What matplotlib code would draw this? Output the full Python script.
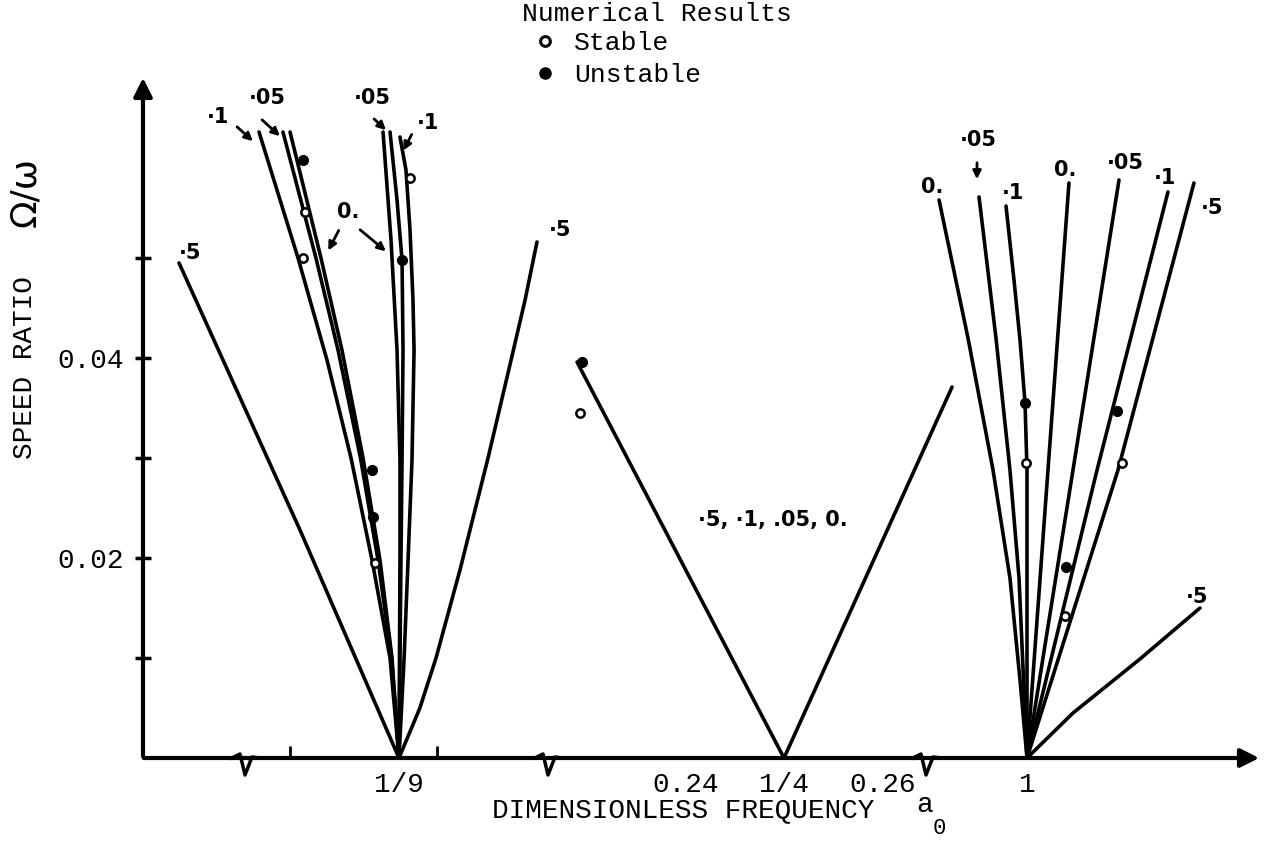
import matplotlib
matplotlib.use("Agg")
import matplotlib.pyplot as plt
import matplotlib.transforms as mtransforms
from matplotlib.lines import Line2D

plt.rcParams['font.family'] = ['Liberation Mono', 'DejaVu Sans']

# ---- data: speed ratio vs dimensionless frequency, three resonance zones ----
# curves about a0 = 1/9  (labels .5, .1, .05, 0. on each side)
ninth_a = [[0.08878, 0.10106, 0.11111],
           [0.09690, 0.10086, 0.10380, 0.10624, 0.10837, 0.11020, 0.11111],
           [0.09933, 0.10268, 0.10492, 0.10720, 0.10898, 0.11036, 0.11111],
           [0.10005, 0.10319, 0.10532, 0.10746, 0.10918, 0.11040, 0.11111],
           [0.10949, 0.11030, 0.11091, 0.11121, 0.11121, 0.11111],
           [0.11020, 0.11091, 0.11142, 0.11152, 0.11142, 0.11131, 0.11111],
           [0.11121, 0.11182, 0.11223, 0.11253, 0.11264, 0.11243, 0.11203, 0.11162, 0.11111],
           [0.12512, 0.12391, 0.12249, 0.12015, 0.11730, 0.11487, 0.11323, 0.11111]]
ninth_r = [[0.0495, 0.0228, 0.0],
           [0.0626, 0.0500, 0.0398, 0.0300, 0.0198, 0.0100, 0.0],
           [0.0626, 0.0500, 0.0408, 0.0300, 0.0198, 0.0100, 0.0],
           [0.0626, 0.0500, 0.0408, 0.0300, 0.0198, 0.0100, 0.0],
           [0.0626, 0.0518, 0.0408, 0.0298, 0.0198, 0.0],
           [0.0626, 0.0558, 0.0498, 0.0408, 0.0298, 0.0198, 0.0],
           [0.0621, 0.0588, 0.0528, 0.0458, 0.0408, 0.0298, 0.0198, 0.0098, 0.0],
           [0.0516, 0.0458, 0.0398, 0.0300, 0.0188, 0.0100, 0.0050, 0.0]]

# curves about a0 = 1/4 (all damping values coincide)
quarter_a = [[0.22899, 0.25], [0.26706, 0.25]]
quarter_r = [[0.0396, 0.0], [0.0371, 0.0]]

# curves about a0 = 1
unity_a = [[0.99107, 0.99401, 0.99655, 0.99827, 0.99929, 1.0],
           [0.99513, 0.99685, 0.99827, 0.99919, 1.0],
           [0.99787, 0.99868, 0.99929, 0.99980, 1.0, 1.0],
           [1.00426, 1.00213, 1.0],
           [1.00934, 1.00467, 1.0],
           [1.01431, 1.00711, 1.0],
           [1.01695, 1.00924, 1.0],
           [1.01756, 1.01147, 1.00467, 1.0]]
unity_r = [[0.0558, 0.0420, 0.0288, 0.0180, 0.0078, 0.0],
           [0.0561, 0.0420, 0.0288, 0.0180, 0.0],
           [0.0552, 0.0478, 0.0418, 0.0355, 0.0288, 0.0],
           [0.0575, 0.0288, 0.0],
           [0.0578, 0.0288, 0.0],
           [0.0566, 0.0288, 0.0],
           [0.0575, 0.0288, 0.0],
           [0.0150, 0.0099, 0.0045, 0.0]]

# numerical results
stable_ninth_a = [0.10157, 0.10137, 0.11223, 0.10867]
stable_ninth_r = [0.0546, 0.0500, 0.0580, 0.0195]
unstable_ninth_a = [0.10137, 0.11142, 0.10837, 0.10847]
unstable_ninth_r = [0.0598, 0.0498, 0.0288, 0.0241]
stable_quarter_a = [0.22929]
stable_quarter_r = [0.0345]
unstable_quarter_a = [0.22949]
unstable_quarter_r = [0.0396]
stable_unity_a = [0.99990, 1.00965, 1.00386]
stable_unity_r = [0.0295, 0.0295, 0.0142]
unstable_unity_a = [0.99980, 1.00914, 1.00396]
unstable_unity_r = [0.0355, 0.0347, 0.0191]

# ---- layout (reference pixel geometry) ----
W, H = 1267, 841
X0, X1, Y0, Y1 = 143, 1262, 758, 75
XSCALE = 9850.0     # px per unit of a0 inside each zone
YSCALE = 10000.0    # px per unit of speed ratio

fig = plt.figure(figsize=(W / 100, H / 100), dpi=100)
px = mtransforms.Affine2D().scale(1 / W, -1 / H).translate(0, 1) + fig.transFigure
rect = [X0 / W, 1 - Y0 / H, (X1 - X0) / W, (Y0 - Y1) / H]

ax1 = fig.add_axes(rect)
ax2 = fig.add_axes(rect)
ax3 = fig.add_axes(rect)

def zone_limits(center, center_px):
    return (center + (X0 - center_px) / XSCALE, center + (X1 - center_px) / XSCALE)

ax1.set_xlim(*zone_limits(1 / 9, 399))
ax2.set_xlim(*zone_limits(0.25, 784))
ax3.set_xlim(*zone_limits(1.0, 1027))

lw = 2.6
for ax, xs, ys, st_a, st_r, un_a, un_r in [
        (ax1, ninth_a, ninth_r, stable_ninth_a, stable_ninth_r, unstable_ninth_a, unstable_ninth_r),
        (ax2, quarter_a, quarter_r, stable_quarter_a, stable_quarter_r, unstable_quarter_a, unstable_quarter_r),
        (ax3, unity_a, unity_r, stable_unity_a, stable_unity_r, unstable_unity_a, unstable_unity_r)]:
    for a, r in zip(xs, ys):
        ax.plot(a, r, color='black', lw=lw, solid_capstyle='round', solid_joinstyle='round',
                clip_on=False)
    ax.plot(st_a, st_r, 'o', ms=6, mfc='white', mec='black', mew=1.8, clip_on=False, zorder=4)
    ax.plot(un_a, un_r, 'o', ms=7, mfc='black', mec='black', clip_on=False, zorder=4)
    ax.set_ylim(0, (Y0 - Y1) / YSCALE)
    ax.patch.set_visible(False)
    for s in ax.spines.values():
        s.set_visible(False)

# y ticks on first axes only
ax1.set_yticks([0.01, 0.02, 0.03, 0.04, 0.05], ['', '0.02', '', '0.04', ''])
ax1.tick_params(axis='y', direction='inout', length=12, width=2.5, pad=8, labelsize=20)
for ax in (ax2, ax3):
    ax.set_yticks([])

# x ticks for each zone
ax1.set_xticks([1 / 9], ['1/9'])
ax1.set_xticks([0.1, 0.115], minor=True)
ax2.set_xticks([0.24, 0.25, 0.26], ['0.24', '1/4', '0.26'])
ax2.set_xticks([0.24, 0.26], minor=True)
ax3.set_xticks([1.0], ['1'])
for ax in (ax1, ax2, ax3):
    ax.tick_params(axis='x', which='major', length=0, pad=10, labelsize=20)
    ax.tick_params(axis='x', which='minor', direction='in', length=9, width=2)

# axes drawn as arrows with broken x axis
ax1.annotate('', xy=(X1, Y0), xytext=(X0 - 2, Y0), xycoords=px, textcoords=px,
             arrowprops=dict(arrowstyle='-|>', lw=3, color='black', mutation_scale=28))
ax1.annotate('', xy=(X0, Y1), xytext=(X0, Y0 + 1), xycoords=px, textcoords=px,
             arrowprops=dict(arrowstyle='-|>', lw=3, color='black', mutation_scale=28))
for bx in (246, 549, 927):
    ax1.plot([bx - 14, bx - 6, bx - 1, bx + 6, bx + 14], [Y0, Y0 - 4, Y0 + 17, Y0 - 1, Y0],
             color='black', lw=2.5, transform=px, clip_on=False)

# axis titles
fig.text(683 / W, 1 - 810 / H, 'DIMENSIONLESS FREQUENCY', ha='center', va='center', fontsize=20)
fig.text(925 / W, 1 - 805 / H, 'a', ha='center', va='center', fontsize=20)
fig.text(939 / W, 1 - 828 / H, '0', ha='center', va='center', fontsize=16)
fig.text(25 / W, 1 - 368 / H, 'SPEED RATIO', rotation=90, ha='center', va='center', fontsize=20)
fig.text(25 / W, 1 - 192 / H, 'Ω/ω', rotation=90, ha='center', va='center', fontsize=26,
         family='DejaVu Sans')

# legend
fig.text(522 / W, 1 - 14 / H, 'Numerical Results', ha='left', va='center', fontsize=19)
h_st = Line2D([], [], ls='none', marker='o', ms=7, mfc='white', mec='black', mew=2.2)
h_un = Line2D([], [], ls='none', marker='o', ms=8, mfc='black', mec='black')
fig.legend([h_st, h_un], ['Stable', 'Unstable'], loc='upper left',
           bbox_to_anchor=(537 / W, 1 - 31 / H), frameon=False, prop=dict(size=19),
           borderpad=0, borderaxespad=0, handlelength=0.6, handletextpad=0.8,
           labelspacing=0.3)

# hand-lettered curve labels
hand = dict(family='DejaVu Sans', weight='bold', fontsize=15, ha='center', va='center',
            transform=px)
for txt, x, y in [('·5', 190, 253), ('·1', 218, 117), ('·05', 267, 98), ('·05', 372, 98),
                  ('·1', 428, 123), ('0.', 348, 212), ('·5', 560, 230),
                  ('·5, ·1, .05, 0.', 773, 520),
                  ('0.', 932, 187), ('·05', 978, 140), ('·1', 1013, 193), ('0.', 1065, 170),
                  ('·05', 1125, 163), ('·1', 1165, 178), ('·5', 1212, 208), ('·5', 1197, 597)]:
    fig.text(x, y, txt, **hand)

for (x0, y0), (x1, y1) in [((235, 125), (255, 143)), ((260, 118), (282, 138)),
                           ((372, 117), (388, 132)), ((413, 132), (402, 153)),
                           ((340, 228), (327, 253)), ((358, 228), (388, 253)),
                           ((977, 160), (977, 182))]:
    ax1.annotate('', xy=(x1, y1), xytext=(x0, y0), xycoords=px, textcoords=px,
                 arrowprops=dict(arrowstyle='-|>', lw=2, color='black', mutation_scale=12))

fig.savefig('out.png', dpi=100)
